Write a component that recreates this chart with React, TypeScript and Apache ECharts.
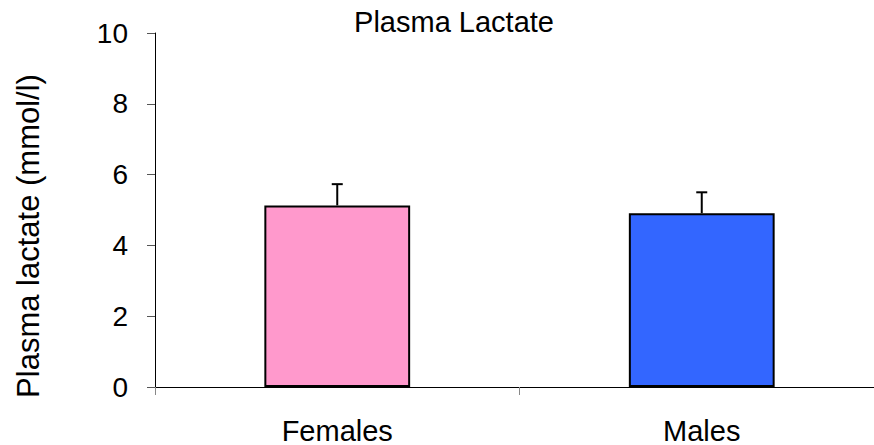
import React, { useEffect, useRef } from "react";
import * as echarts from "echarts";

const categories = ["Females", "Males"];
const means = [5.13, 4.91];
const errors = [0.6, 0.59];
const barColors = ["#FF99CC", "#3366FF"];
const title = "Plasma Lactate";
const yAxisName = "Plasma lactate (mmol/l)";

const FONT = "'Liberation Sans', Arial, sans-serif";

export default function App() {
  const ref = useRef<HTMLDivElement>(null);
  useEffect(() => {
    if (!ref.current) return;
    const chart = echarts.init(ref.current, undefined, { renderer: "svg" });
    const errData = means.map((m, i) => [i, m, m + errors[i]]);
    chart.setOption({
      animation: false,
      backgroundColor: "#ffffff",
      textStyle: { fontFamily: FONT },
      grid: {
        left: 155,
        right: -10,
        top: 33,
        bottom: 58,
        containLabel: false,
        outerBoundsMode: "none",
      },
      graphic: [
        {
          type: "text",
          x: 454,
          y: 22,
          style: {
            text: title,
            fontSize: 29,
            fontFamily: FONT,
            fill: "#000",
            align: "center",
            verticalAlign: "middle",
          },
        },
        {
          type: "text",
          x: 28,
          y: 236,
          rotation: Math.PI / 2,
          style: {
            text: yAxisName,
            fontSize: 31,
            fontFamily: FONT,
            fill: "#000",
            align: "center",
            verticalAlign: "middle",
          },
        },
      ],
      xAxis: {
        type: "category",
        data: categories,
        boundaryGap: true,
        axisLine: { show: true, lineStyle: { color: "#000", width: 1 } },
        axisTick: { show: true, length: 8, lineStyle: { color: "#888", width: 1 } },
        axisLabel: { color: "#000", fontSize: 29, fontFamily: FONT, margin: 29 },
        splitLine: { show: false },
      },
      yAxis: {
        type: "value",
        min: 0,
        max: 10,
        interval: 2,
        axisLine: { show: true, lineStyle: { color: "#000", width: 1 } },
        axisTick: { show: true, length: 8, lineStyle: { color: "#555", width: 1 } },
        axisLabel: { color: "#000", fontSize: 28, fontFamily: FONT, margin: 27 },
        splitLine: { show: false },
      },
      series: [
        {
          type: "bar",
          data: means.map((v, i) => ({ value: v, itemStyle: { color: barColors[i] } })),
          barWidth: "40%",
          itemStyle: { borderColor: "#000", borderWidth: 2 },
          z: 2,
        },
        {
          type: "custom",
          data: errData,
          encode: { x: 0, y: [1, 2] },
          z: 3,
          renderItem: (params: any, api: any) => {
            const top = api.coord([api.value(0), api.value(2)]);
            const bottom = api.coord([api.value(0), api.value(1)]);
            const half = 5.5;
            return {
              type: "group",
              children: [
                {
                  type: "line",
                  shape: { x1: top[0], y1: top[1], x2: bottom[0], y2: bottom[1] },
                  style: { stroke: "#000", lineWidth: 2 },
                },
                {
                  type: "line",
                  shape: { x1: top[0] - half, y1: top[1], x2: top[0] + half, y2: top[1] },
                  style: { stroke: "#000", lineWidth: 2 },
                },
              ],
            };
          },
        },
      ],
    });
    return () => chart.dispose();
  }, []);
  return (
    <div
      ref={ref}
      style={{ position: "fixed", left: 0, top: 0, width: 874, height: 445 }}
    />
  );
}
